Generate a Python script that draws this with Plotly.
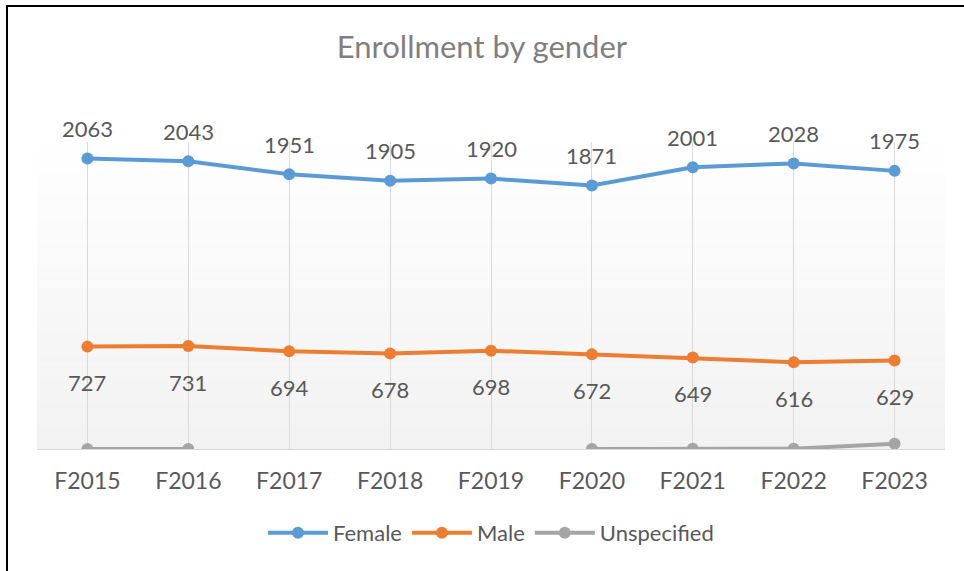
import plotly.graph_objects as go

years = ["F2015", "F2016", "F2017", "F2018", "F2019", "F2020", "F2021", "F2022", "F2023"]
female = [2063, 2043, 1951, 1905, 1920, 1871, 2001, 2028, 1975]
male = [727, 731, 694, 678, 698, 672, 649, 616, 629]
unspecified = [0, 0, None, None, None, 0, 1, 2, 38]

FONT = "Lato"
TEXT_COLOR = "#595959"

fig = go.Figure()

series = [
    ("Female", female, "#5B9BD5"),
    ("Male", male, "#ED7D31"),
    ("Unspecified", unspecified, "#A5A5A5"),
]
for name, vals, color in series:
    fig.add_trace(go.Scatter(
        x=years, y=vals, name=name, mode="lines+markers",
        line=dict(color=color, width=4),
        marker=dict(color=color, size=12),
        connectgaps=False,
    ))

# data labels: female above, male below
annotations = []
for yr, v in zip(years, female):
    annotations.append(dict(x=yr, y=v, text=str(v), showarrow=False, yshift=30,
                            font=dict(family=FONT, size=22, color=TEXT_COLOR)))
for yr, v in zip(years, male):
    annotations.append(dict(x=yr, y=v, text=str(v), showarrow=False, yshift=-36,
                            font=dict(family=FONT, size=22, color=TEXT_COLOR)))

# soft vertical gradient for the plot area (white -> light gray)
shapes = []
n = 40
for i in range(n):
    t = i / (n - 1)
    c = int(242 + (255 - 242) * t)
    shapes.append(dict(type="rect", xref="paper", yref="paper",
                       x0=0, x1=1, y0=i / n, y1=(i + 1) / n,
                       fillcolor=f"rgb({c},{c},{c})", line=dict(width=0),
                       layer="below"))
# outer frame (only the top and left edges are visible)
shapes.append(dict(type="rect", xref="paper", yref="paper",
                   x0=-30 / 908, x1=1.2, y0=-0.5, y1=1 + 136 / 307,
                   line=dict(color="black", width=2), fillcolor="rgba(0,0,0,0)",
                   layer="above"))

fig.update_layout(
    width=964, height=571,
    margin=dict(l=37, r=19, t=142, b=122),
    paper_bgcolor="white", plot_bgcolor="rgba(0,0,0,0)",
    title=dict(text="Enrollment by gender", x=0.5, xanchor="center",
               y=1 - 47 / 571, yanchor="middle",
               font=dict(family=FONT, size=31, color="#7f7f7f")),
    font=dict(family=FONT, color=TEXT_COLOR),
    xaxis=dict(type="category", range=[-0.5, 8.5], showgrid=True,
               gridcolor="#d9d9d9", gridwidth=1, showline=True,
               linecolor="#d9d9d9", linewidth=1, ticks="",
               ticklabelstandoff=11,
               tickfont=dict(family=FONT, size=23, color=TEXT_COLOR),
               zeroline=False, fixedrange=True),
    yaxis=dict(range=[0, 2180], visible=False, showgrid=False, zeroline=False),
    legend=dict(orientation="h", x=0.5, xanchor="center", y=-84 / 307,
                yanchor="middle", font=dict(family=FONT, size=22, color=TEXT_COLOR),
                itemwidth=60),
    annotations=annotations,
    shapes=shapes,
    showlegend=True,
)

# drop the browser's default body margin so the chart sits at the page origin
fig.write_html("out.html", config={"displayModeBar": False},
               post_script="document.body.style.margin='0';")
